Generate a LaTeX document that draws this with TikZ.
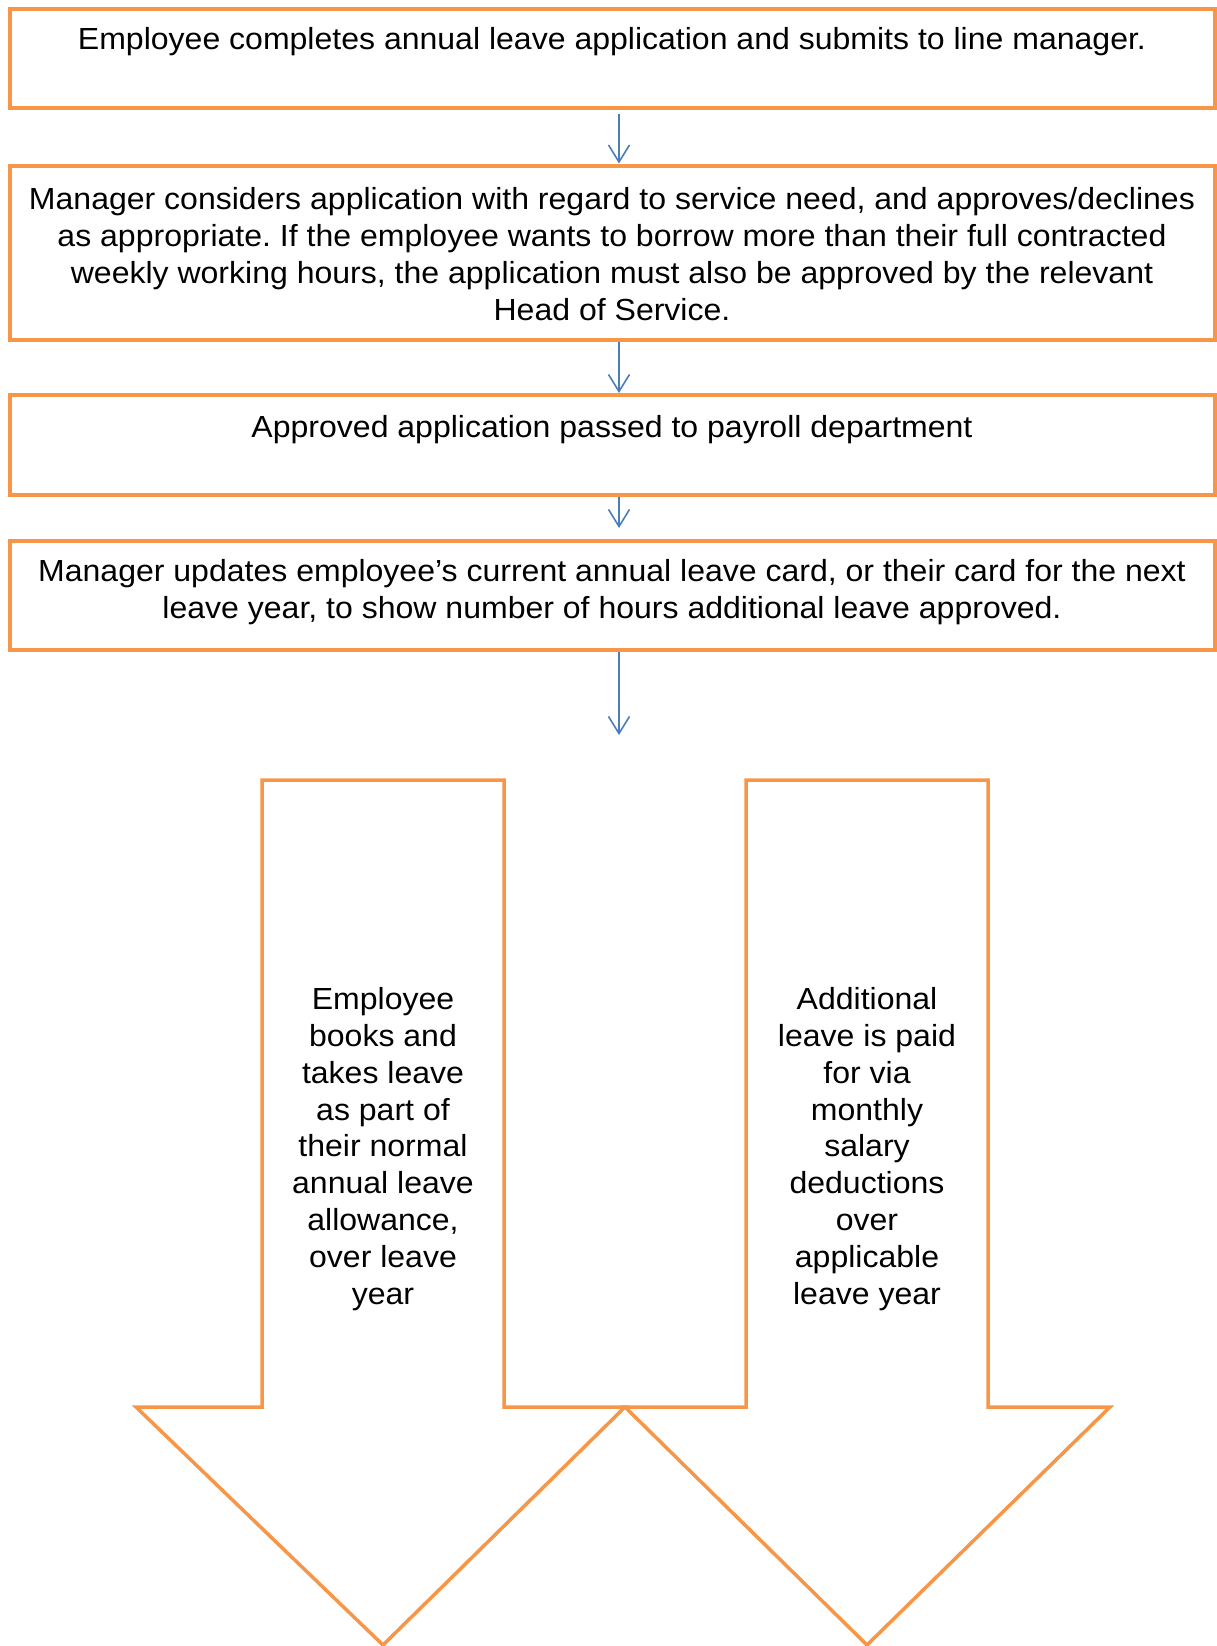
\documentclass[tikz,border=0pt]{standalone}
\usepackage{fontspec}
\setmainfont[FakeStretch=1.05]{Liberation Sans}
\frenchspacing
\usetikzlibrary{arrows.meta}
\definecolor{orng}{HTML}{F79646}
\definecolor{blu}{HTML}{4A7EBB}
\begin{document}
\begin{tikzpicture}[x=1pt,y=-1pt,
  box/.style={draw=orng,line width=4pt,minimum width=1205pt,inner sep=0pt},
  txt/.style={font=\fontsize{30.5}{36.8}\selectfont,align=center,inner sep=0pt},
  conn/.style={draw=blu,line width=1.6pt,-{Straight Barb[length=17pt,width=21pt,line width=1.6pt]}},
  bigarrow/.style={draw=orng,line width=3.5pt,line join=miter}]
\useasboundingbox (0,0) rectangle (1217,1646);
% boxes
\node[box,minimum height=98pt] (b1) at (612,58.5) {};
\node[box,minimum height=174.5pt] (b2) at (612,252.75) {};
\node[box,minimum height=99.5pt] (b3) at (612,444.75) {};
\node[box,minimum height=109pt] (b4) at (612,595.5) {};
% texts
\node[txt,anchor=base] (t1) at (612,50) {Employee completes annual leave application and submits to line manager.};
\node[txt] (t2) at (612,254) {Manager considers application with regard to service need, and approves/declines\\as appropriate. If the employee wants to borrow more than their full contracted\\weekly working hours, the application must also be approved by the relevant\\Head of Service.};
\node[txt,anchor=base] (t3) at (612,437) {Approved application passed to payroll department};
\node[txt] (t4) at (612,592) {Manager updates employee’s current annual leave card, or their card for the next\\leave year, to show number of hours additional leave approved.};
% connectors
\coordinate (e3) at (619,528);
\coordinate (e4) at (619,735);
\draw[conn] ([xshift=7pt,yshift=-4pt]b1.south) -- ([xshift=7pt]b2.north);
\draw[conn] ([xshift=7pt]b2.south) -- ([xshift=7pt]b3.north);
\draw[conn] ([xshift=7pt]b3.south) -- (e3);
\draw[conn] ([xshift=7pt]b4.south) -- (e4);
% big arrows
\draw[bigarrow] (262,780) -- (504,780) -- (504,1407) -- (625,1407) -- (383,1645) -- (136,1407) -- (262,1407) -- cycle;
\draw[bigarrow] (746,780) -- (988,780) -- (988,1407) -- (1110,1407) -- (867,1645) -- (625,1407) -- (746,1407) -- cycle;
\node[txt] (l) at (383,1149) {Employee\\books and\\takes leave\\as part of\\their normal\\annual leave\\allowance,\\over leave\\year};
\node[txt] (r) at (867,1149) {Additional\\leave is paid\\for via\\monthly\\salary\\deductions\\over\\applicable\\leave year};
\end{tikzpicture}
\end{document}
